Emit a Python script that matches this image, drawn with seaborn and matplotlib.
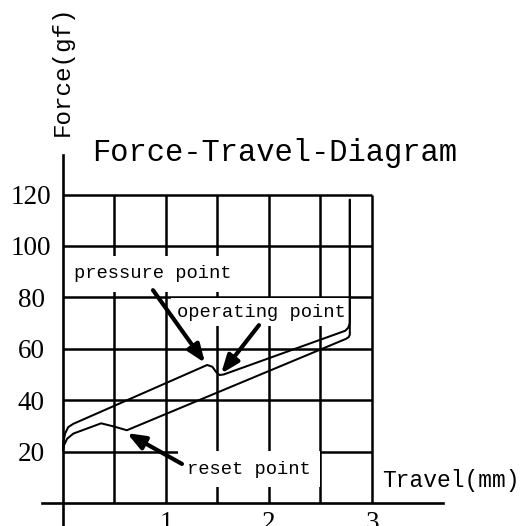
import pandas as pd
import matplotlib
matplotlib.use('Agg')
import matplotlib.pyplot as plt
import seaborn as sns

press_travel = [0.0, 0.005, 0.02, 0.05, 0.10, 1.40, 1.45, 1.49, 1.52, 1.56, 2.74, 2.77, 2.785, 2.785]
press_force = [20.5, 24.0, 27.0, 29.5, 30.8, 53.7, 53.0, 50.8, 49.8, 50.0, 67.0, 68.2, 70.0, 118.0]

return_travel = [2.785, 2.785, 2.775, 2.75, 0.62, 0.50, 0.37, 0.10, 0.04, 0.01, 0.0]
return_force = [118.0, 65.5, 64.6, 63.9, 28.3, 29.7, 31.0, 27.0, 25.0, 22.5, 20.5]

grid_travel = [0.5, 1.0, 1.5, 2.0, 2.5, 3.0]
grid_force = [20, 40, 60, 80, 100, 120]
x_tick_vals = [1, 2, 3]
x_tick_labels = ["1", "2", "3"]

# etichette: testo, posizione del testo, coda e punta della freccia, margine del riquadro
notes = [
    ("pressure point", (0.874, 89.1), (0.874, 82.8), (1.379, 54.5), 0.5),
    ("operating point", (1.922, 74.2), (1.903, 69.2), (1.535, 50.3), 0.3),
    ("reset point", (1.806, 13.2), (1.155, 15.2), (0.621, 27.2), 0.5),
]

df = pd.DataFrame({
    "travel": press_travel + return_travel,
    "force": press_force + return_force,
    "stroke": ["press"] * len(press_travel) + ["return"] * len(return_travel),
})

sns.set_theme(style="white")
plt.rcParams['font.family'] = ['Liberation Serif', 'DejaVu Sans']

fig = plt.figure(figsize=(5.24, 5.26), dpi=100)
ax = fig.add_axes([42 / 524, 0, 401 / 524, 371 / 526])
ax.set_xlim(-0.204, 3.69)
ax.set_ylim(-8.95, 135.4)

# griglia
ax.hlines(grid_force, 0, max(grid_travel), color="black", lw=1.8, zorder=1)
ax.vlines(grid_travel, 0, max(grid_force), color="black", lw=1.8, zorder=1)

# curve
for stroke, sub in df.groupby("stroke"):
    sns.lineplot(data=sub, x="travel", y="force", sort=False, estimator=None,
                 color="black", lw=1.45, ax=ax, zorder=4)

# assi
for side in ["top", "right"]:
    ax.spines[side].set_visible(False)
for side in ["left", "bottom"]:
    ax.spines[side].set_position(("data", 0))
    ax.spines[side].set_color("black")
    ax.spines[side].set_linewidth(1.9)
    ax.spines[side].set_zorder(5)

ax.set_xticks(x_tick_vals, x_tick_labels)
ax.set_yticks(grid_force, [str(v) for v in grid_force])
ax.tick_params(axis="x", length=0, pad=5.5, labelsize=19.5, colors="black")
ax.tick_params(axis="y", length=0, pad=23, labelsize=19.5, colors="black")
for lab in ax.get_yticklabels():
    lab.set_horizontalalignment("center")
ax.set_xlabel("")
ax.set_ylabel("")

mono = ['Liberation Mono', 'DejaVu Sans Mono']
for text, pos, tail, tip, pad in notes:
    ax.text(pos[0], pos[1], text, family=mono, fontsize=13.5, ha="center", va="center",
            color="black", zorder=3,
            bbox=dict(boxstyle=f"square,pad={pad}", fc="white", ec="none"))
    ax.annotate("", xy=tip, xytext=tail, zorder=6,
                arrowprops=dict(arrowstyle="-|>,head_length=0.9,head_width=0.35",
                                lw=3, color="black", shrinkA=0, shrinkB=0))

fig.text(275 / 524, 1 - 153 / 526, "Force-Travel-Diagram", family=mono, fontsize=22,
         ha="center", va="center", color="black")
fig.text(62 / 524, 1 - 71 / 526, "Force(gf)", family=mono, fontsize=17.5, rotation=90,
         ha="center", va="center", color="black")
fig.text(451 / 524, 1 - 481 / 526, "Travel(mm)", family=mono, fontsize=16.5,
         ha="center", va="center", color="black")

fig.savefig("out.png", dpi=100)
plt.close(fig)
